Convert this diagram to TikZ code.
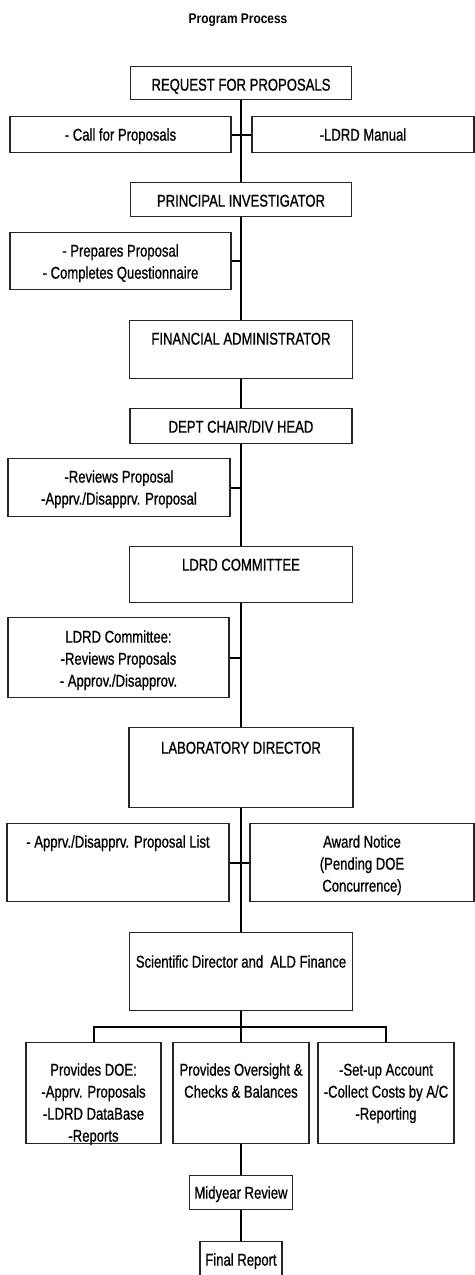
\documentclass[tikz,border=0pt]{standalone}
\usepackage{fontspec}
\setmainfont{Liberation Sans}[FakeStretch=0.77,FakeBold=0.8]
\newfontfamily\titlefont{Liberation Sans}[FakeStretch=0.85]
\tikzset{box/.style={draw=black!85,line width=.6pt,inner sep=0pt,anchor=north,font=\fontsize{8.5}{11}\selectfont}}
\tikzset{link/.style={line width=1pt}}
\newcommand\boxlines[1]{\begin{tabular}[t]{@{}c@{}}#1\end{tabular}}

\begin{document}
\begin{tikzpicture}[x=.5pt,y=-.5pt]
  \useasboundingbox (0,0) rectangle (475,1275);
  \clip (0,0) rectangle (475,1275);
  \node[font=\titlefont\bfseries\fontsize{7}{9}\selectfont] (title) at (238,20) {Program Process};
  % main column
  \node[box,minimum width=110.5pt,text height=12pt,text depth=4.5pt] (req) at (241,66) {REQUEST FOR PROPOSALS};
  \node[box,minimum width=110.5pt,text height=12pt,text depth=5pt] (pi) at (241,182) {PRINCIPAL INVESTIGATOR};
  \node[box,minimum width=111.5pt,text height=12pt,text depth=17pt] (fa) at (241,320) {FINANCIAL ADMINISTRATOR};
  \node[box,minimum width=111pt,text height=12pt,text depth=5.5pt] (dept) at (241,408) {DEPT CHAIR/DIV HEAD};
  \node[box,minimum width=111.5pt,text height=12pt,text depth=16pt] (comm) at (241,546) {LDRD COMMITTEE};
  \node[box,minimum width=112pt,text height=13pt,text depth=27pt] (lab) at (241,727) {LABORATORY DIRECTOR};
  \node[box,minimum width=111.5pt,text height=17.5pt,text depth=21.5pt] (sci) at (241,932) {Scientific Director and\ \ ALD Finance};
  \node[box,minimum width=51.5pt,text height=11.5pt,text depth=5.5pt] (mid) at (241,1175) {Midyear Review};
  \node[box,minimum width=41pt,text height=12pt,text depth=20pt] (fin) at (241,1241) {Final Report};
  % side notes
  \node[box,minimum width=110.5pt,text height=12pt,text depth=6pt] (call) at (120.5,116) {- Call for Proposals};
  \node[box,minimum width=111pt,text height=12pt,text depth=6pt] (manual) at (363,116) {-LDRD Manual};
  \node[box,minimum width=110.5pt,text height=12pt,text depth=16.5pt] (prep) at (120.5,232) {\boxlines{- Prepares Proposal\\- Completes Questionnaire}};
  \node[box,minimum width=111pt,text height=12pt,text depth=17pt] (rev) at (119,458) {\boxlines{-Reviews Proposal\\-Apprv./Disapprv. Proposal}};
  \node[box,minimum width=110.5pt,text height=12.5pt,text depth=27.5pt] (cnote) at (118.5,617) {\boxlines{LDRD Committee:\\-Reviews Proposals\\- Approv./Disapprov.}};
  \node[box,minimum width=111pt,text height=12pt,text depth=27pt] (list) at (118,823) {- Apprv./Disapprv. Proposal List};
  \node[box,minimum width=112pt,text height=12pt,text depth=27pt] (award) at (362,823) {\boxlines{Award Notice\\(Pending DOE\\Concurrence)}};
  % bottom row
  \node[box,minimum width=67.5pt,text height=16.5pt,text depth=34pt] (doe) at (93.5,1042) {\boxlines{Provides DOE:\\-Apprv. Proposals\\-LDRD DataBase\\-Reports}};
  \node[box,minimum width=68pt,text height=16.5pt,text depth=34pt] (over) at (241,1042) {\boxlines{Provides Oversight \&\\Checks \& Balances}};
  \node[box,minimum width=68pt,text height=16.5pt,text depth=34pt] (acct) at (386,1042) {\boxlines{-Set-up Account\\-Collect Costs by A/C\\-Reporting}};
  \coordinate (bus) at (241,1027);
  % connectors
  \draw[link] (req) -- (pi);
  \draw[link] (call) -- (manual);
  \draw[link] (pi) -- (fa);
  \draw[link] (prep.east) -- (prep.east -| pi.south);
  \draw[link] (fa) -- (dept);
  \draw[link] (dept) -- (comm);
  \draw[link] (rev.east) -- (rev.east -| dept.south);
  \draw[link] (comm) -- (lab);
  \draw[link] (cnote.east) -- (cnote.east -| comm.south);
  \draw[link] (lab) -- (sci);
  \draw[link] (list) -- (award);
  \draw[link] (sci) -- (bus);
  \draw[link] (doe.north) |- (bus) -| (acct.north);
  \draw[link] (bus) -- (over);
  \draw[link] (over) -- (mid);
  \draw[link] (mid) -- (fin);
\end{tikzpicture}
\end{document}
